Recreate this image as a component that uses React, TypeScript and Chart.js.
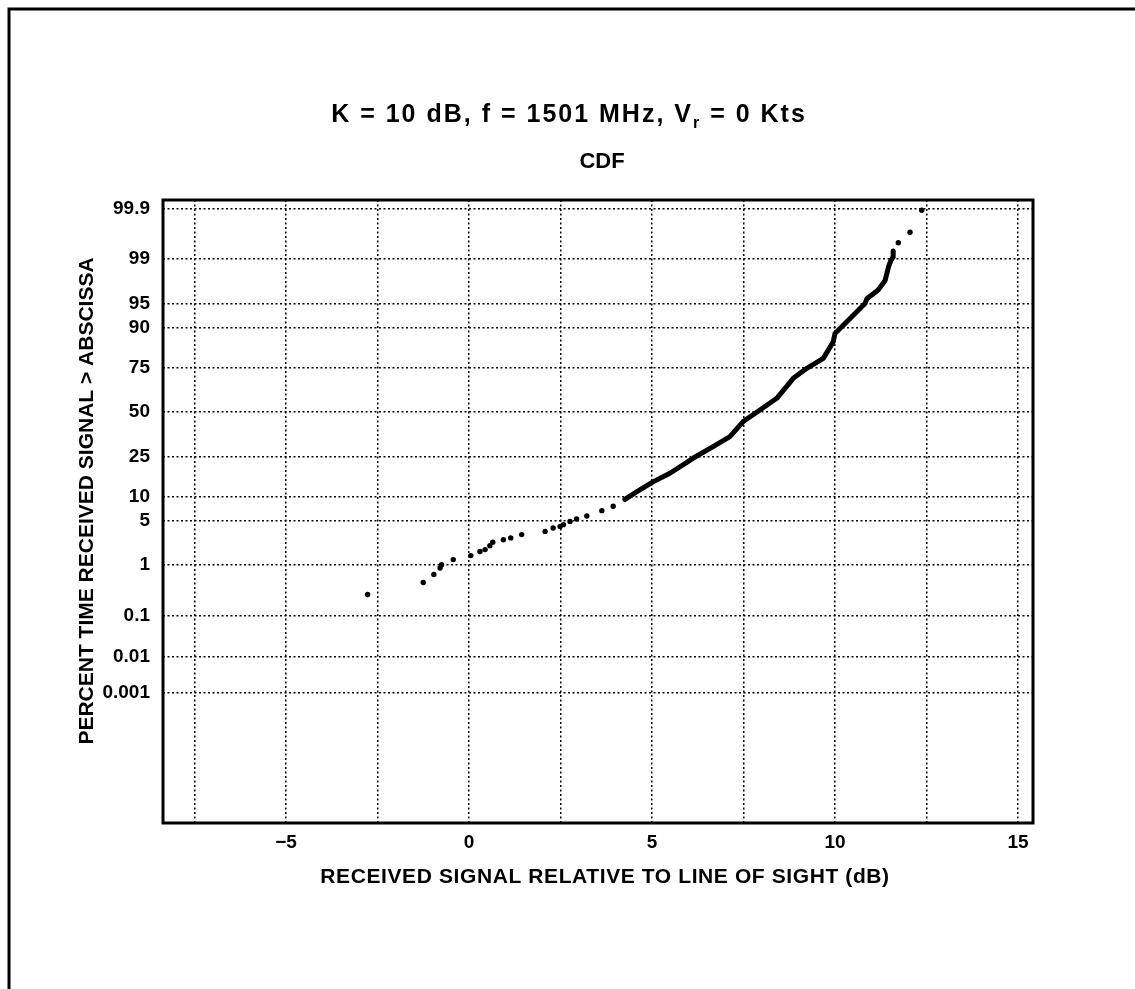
import React, { useEffect, useRef } from 'react';
import { Chart, registerables } from 'chart.js';

Chart.register(...registerables);

// ---- Text ----
const TITLE_MAIN = 'K = 10 dB, f = 1501 MHz, V';
const TITLE_SUB = 'r';
const TITLE_END = ' = 0 Kts';
const SUBTITLE = 'CDF';
const X_TITLE = 'RECEIVED SIGNAL RELATIVE TO LINE OF SIGHT (dB)';
const Y_TITLE = 'PERCENT TIME RECEIVED SIGNAL > ABSCISSA';

// ---- Axes ----
const xTickValues = [-7.5, -5, -2.5, 0, 2.5, 5, 7.5, 10, 12.5, 15];
const xLabelledTicks = [-5, 0, 5, 10, 15];
const yTickPercents = [0.001, 0.01, 0.1, 1, 5, 10, 25, 50, 75, 90, 95, 99, 99.9];
const yTickLabels = ['0.001', '0.01', '0.1', '1', '5', '10', '25', '50', '75', '90', '95', '99', '99.9'];

// ---- Data (dB, percent) ----
const sparseDb = [-2.77, -1.25, -0.96, -0.79, -0.75, -0.43, 0.05, 0.3, 0.44, 0.57, 0.65, 0.94, 1.14, 1.44, 2.08, 2.3, 2.49, 2.58, 2.76, 2.94, 3.22, 3.63, 3.94, 11.73, 12.05, 12.37];
const sparsePct = [0.28, 0.48, 0.68, 0.89, 1.02, 1.25, 1.46, 1.71, 1.83, 2.12, 2.39, 2.62, 2.79, 3.13, 3.49, 3.9, 4.1, 4.35, 4.83, 5.2, 5.7, 6.7, 7.6, 99.49, 99.68, 99.89];

const curveDb = [4.26, 4.6, 5.04, 5.49, 6.13, 6.67, 7.13, 7.49, 7.95, 8.41, 8.86, 9.23, 9.68, 9.95, 10.0, 10.5, 10.82, 10.87, 11.18, 11.37, 11.46, 11.52, 11.59, 11.59];
const curvePct = [9.2, 11.4, 14.5, 17.6, 24.2, 29.9, 35.4, 44.2, 51.2, 58.2, 69.5, 74.6, 79.2, 85.6, 88.3, 92.9, 95.0, 95.7, 96.8, 97.7, 98.6, 98.9, 99.07, 99.27];

// inverse normal CDF (Acklam) – maps percent to the normal-probability axis
function probit(pct: number): number {
  const p = pct / 100;
  const a = [-39.69683028665376, 220.9460984245205, -275.9285104469687, 138.357751867269, -30.66479806614716, 2.506628277459239];
  const b = [-54.47609879822406, 161.5858368580409, -155.6989798598866, 66.80131188771972, -13.28068155288572];
  const c = [-0.007784894002430293, -0.3223964580411365, -2.400758277161838, -2.549732539343734, 4.374664141464968, 2.938163982698783];
  const d = [0.007784695709041462, 0.3224671290700398, 2.445134137142996, 3.754408661907416];
  const plow = 0.02425;
  if (p < plow) {
    const q = Math.sqrt(-2 * Math.log(p));
    return (((((c[0] * q + c[1]) * q + c[2]) * q + c[3]) * q + c[4]) * q + c[5]) / ((((d[0] * q + d[1]) * q + d[2]) * q + d[3]) * q + 1);
  }
  if (p <= 1 - plow) {
    const q = p - 0.5;
    const r = q * q;
    return ((((((a[0] * r + a[1]) * r + a[2]) * r + a[3]) * r + a[4]) * r + a[5]) * q) / (((((b[0] * r + b[1]) * r + b[2]) * r + b[3]) * r + b[4]) * r + 1);
  }
  const q = Math.sqrt(-2 * Math.log(1 - p));
  return -(((((c[0] * q + c[1]) * q + c[2]) * q + c[3]) * q + c[4]) * q + c[5]) / ((((d[0] * q + d[1]) * q + d[2]) * q + d[3]) * q + 1);
}

const FONT = '"Liberation Sans", Arial, sans-serif';

const decorPlugin = {
  id: 'decor',
  afterDraw(chart: any) {
    const ctx = chart.ctx as any;
    const area = chart.chartArea;
    ctx.save();
    // plot frame
    ctx.strokeStyle = '#000';
    ctx.lineWidth = 3;
    ctx.strokeRect(area.left, area.top, area.right - area.left, area.bottom - area.top);
    // page frame (left + top)
    ctx.beginPath();
    ctx.moveTo(9, 989);
    ctx.lineTo(9, 9);
    ctx.lineTo(1135, 9);
    ctx.stroke();

    ctx.fillStyle = '#000';
    // main title with subscript
    ctx.letterSpacing = '2px';
    const mainFont = `bold 25px ${FONT}`;
    const subFont = `bold 16px ${FONT}`;
    ctx.font = mainFont;
    const w1 = ctx.measureText(TITLE_MAIN).width;
    const w3 = ctx.measureText(TITLE_END).width;
    ctx.font = subFont;
    const w2 = ctx.measureText(TITLE_SUB).width;
    let x = 569 - (w1 + w2 + w3) / 2;
    const base = 122;
    ctx.textBaseline = 'alphabetic';
    ctx.textAlign = 'left';
    ctx.font = mainFont;
    ctx.fillText(TITLE_MAIN, x, base);
    x += w1;
    ctx.font = subFont;
    ctx.fillText(TITLE_SUB, x, base + 6);
    x += w2;
    ctx.font = mainFont;
    ctx.fillText(TITLE_END, x, base);

    // subtitle
    ctx.letterSpacing = '0px';
    ctx.textAlign = 'center';
    ctx.textBaseline = 'middle';
    ctx.font = `bold 22px ${FONT}`;
    ctx.fillText(SUBTITLE, 602, 162);

    // axis titles
    ctx.font = `bold 21px ${FONT}`;
    ctx.letterSpacing = '0.6px';
    ctx.fillText(X_TITLE, 605, 877);
    ctx.letterSpacing = '0px';
    ctx.translate(87, 501);
    ctx.rotate(-Math.PI / 2);
    ctx.fillText(Y_TITLE, 0, 0);
    ctx.restore();
  },
};

export default function App() {
  const ref = useRef<HTMLCanvasElement | null>(null);
  useEffect(() => {
    if (!ref.current) return;
    const sparse = sparseDb.map((v, i) => ({ x: v, y: probit(sparsePct[i]) }));
    const curve = curveDb.map((v, i) => ({ x: v, y: probit(curvePct[i]) }));
    const chart = new Chart(ref.current, {
      type: 'scatter',
      data: {
        datasets: [
          {
            data: curve,
            showLine: true,
            borderColor: '#000',
            borderWidth: 5,
            borderCapStyle: 'round',
            borderJoinStyle: 'round',
            pointRadius: 0,
            tension: 0,
          } as any,
          {
            data: sparse,
            backgroundColor: '#000',
            borderWidth: 0,
            pointRadius: 2.7,
          },
        ],
      },
      options: {
        animation: false,
        responsive: false,
        events: [],
        layout: { padding: { left: 63, right: 102, top: 200, bottom: 126 } },
        plugins: { legend: { display: false }, tooltip: { enabled: false }, title: { display: false } },
        scales: {
          x: {
            type: 'linear',
            min: -8.36,
            max: 15.41,
            afterBuildTicks: (s: any) => {
              s.ticks = xTickValues.map((v) => ({ value: v }));
            },
            afterFit: (s: any) => {
              s.height = 40;
            },
            ticks: {
              autoSkip: false,
              maxRotation: 0,
              padding: 8,
              color: '#000',
              font: { family: FONT, size: 19, weight: 'bold' },
              callback: (v: any) => (xLabelledTicks.includes(Number(v)) ? (Number(v) < 0 ? '\u2212' + Math.abs(Number(v)) : String(v)) : ''),
            },
            grid: { color: '#000', lineWidth: 1.5, drawTicks: false },
            border: { display: false, dash: [2, 2.5] },
          },
          y: {
            type: 'linear',
            min: -6.24,
            max: 3.217,
            afterBuildTicks: (s: any) => {
              s.ticks = yTickPercents.map((p) => ({ value: probit(p) }));
            },
            afterFit: (s: any) => {
              s.width = 100;
            },
            ticks: {
              autoSkip: false,
              padding: 13,
              color: '#000',
              font: { family: FONT, size: 19, weight: 'bold' },
              callback: (_v: any, i: number) => yTickLabels[i],
            },
            grid: { color: '#000', lineWidth: 1.5, drawTicks: false },
            border: { display: false, dash: [2, 2.5] },
          },
        },
      },
      plugins: [decorPlugin],
    } as any);
    return () => chart.destroy();
  }, []);
  return (
    <div style={{ position: 'absolute', left: 0, top: 0, width: 1135, height: 989, background: '#fff' }}>
      <canvas ref={ref} width={1135} height={989} />
    </div>
  );
}
